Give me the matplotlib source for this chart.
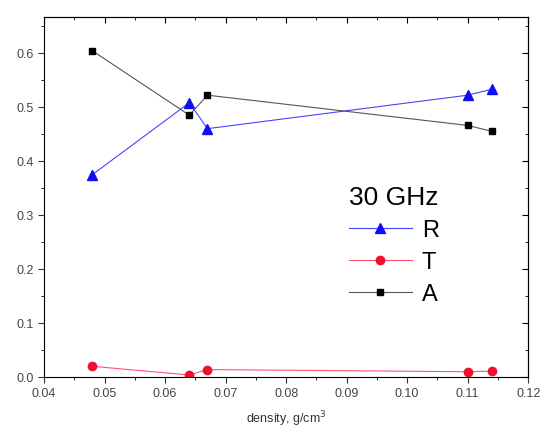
import numpy as np
import matplotlib.pyplot as plt

plt.rcParams['font.family'] = ['Liberation Sans', 'DejaVu Sans']

# density (g/cm3) and R / T / A at 30 GHz
density = [0.048, 0.064, 0.067, 0.110, 0.114]
R = [0.375, 0.508, 0.460, 0.522, 0.533]
T = [0.020, 0.004, 0.014, 0.010, 0.011]
A = [0.604, 0.485, 0.522, 0.466, 0.455]

fig = plt.figure(figsize=(5.44, 4.32), dpi=100)
ax = fig.add_axes([0.081, 0.127, 0.890, 0.834])

ax.plot(density, R, color='#4444ff', lw=0.8, marker='^', ms=6.5,
        mfc='#1010ee', mec='#1010ee', label='R')
ax.plot(density, T, color='#ff5070', lw=0.8, marker='o', ms=6,
        mfc='#ee1030', mec='#ee1030', label='T')
ax.plot(density, A, color='#555555', lw=0.8, marker='s', ms=5,
        mfc='black', mec='black', label='A')

ax.set_xlim(0.04, 0.12)
ax.set_ylim(0, 0.667)
ax.set_xticks(np.arange(0.04, 0.121, 0.01))
ax.set_xticklabels(['0.04', '0.05', '0.06', '0.07', '0.08', '0.09',
                    '0.10', '0.11', '0.12'])
ax.set_xticks(np.arange(0.045, 0.12, 0.01), minor=True)
ax.set_yticks(np.arange(0, 0.61, 0.1))
ax.set_yticklabels(['0.0', '0.1', '0.2', '0.3', '0.4', '0.5', '0.6'])
ax.set_yticks(np.arange(0.05, 0.66, 0.1), minor=True)
ax.tick_params(direction='out', labelsize=9, color='#333333',
               labelcolor='#444444')
ax.tick_params(which='major', length=4)
ax.tick_params(which='minor', length=2.5)

# mirrored ticks pointing inward on top and right
top = ax.secondary_xaxis('top')
top.set_xticks(np.arange(0.04, 0.121, 0.01))
top.set_xticks(np.arange(0.045, 0.12, 0.01), minor=True)
top.tick_params(direction='in', labeltop=False, length=4)
top.tick_params(which='minor', direction='in', length=2.5)
right = ax.secondary_yaxis('right')
right.set_yticks(np.arange(0, 0.61, 0.1))
right.set_yticks(np.arange(0.05, 0.66, 0.1), minor=True)
right.tick_params(direction='in', labelright=False, length=4)
right.tick_params(which='minor', direction='in', length=2.5)

ax.set_xlabel('density, g/cm$^3$', fontsize=9, color='#333333', labelpad=7)

leg = ax.legend(title='30 GHz', loc='center left', bbox_to_anchor=(0.585, 0.365),
                frameon=False, fontsize=17, title_fontsize=19,
                handlelength=2.7, labelspacing=0.42, handletextpad=0.4,
                alignment='left')

plt.savefig('out.png')
